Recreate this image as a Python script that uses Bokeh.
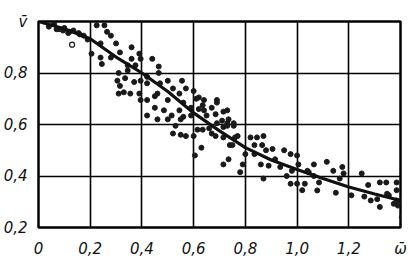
from bokeh.plotting import figure
from bokeh.models import FixedTicker
from bokeh.embed import file_html
from bokeh.resources import INLINE

# Smoothed curve
curve_x = [0.0, 0.1, 0.2, 0.3, 0.4, 0.5, 0.6, 0.7, 0.8, 0.9, 1.0, 1.1, 1.2, 1.3, 1.4]
curve_y = [1.0, 0.972, 0.933, 0.862, 0.80, 0.728, 0.645, 0.575, 0.51, 0.462, 0.425, 0.39, 0.357, 0.33, 0.305]

# Measured points (filled dots)
pts_x = [
    0.04, 0.06, 0.08, 0.10, 0.115, 0.135, 0.155, 0.175, 0.19, 0.07, 0.095, 0.12, 0.16,
    0.225, 0.255, 0.265, 0.24, 0.28, 0.205, 0.24, 0.28, 0.245, 0.30, 0.315, 0.345, 0.36,
    0.39, 0.375, 0.395, 0.44, 0.465, 0.31, 0.345, 0.305, 0.335, 0.37, 0.395, 0.42, 0.315,
    0.31, 0.33, 0.355, 0.39, 0.395, 0.42, 0.45, 0.47, 0.50, 0.52, 0.50, 0.42, 0.45, 0.485,
    0.515, 0.545, 0.555, 0.57, 0.60, 0.62, 0.64, 0.56, 0.59, 0.465, 0.42, 0.545, 0.46,
    0.46, 0.50, 0.55, 0.56, 0.59, 0.62, 0.65, 0.69, 0.61, 0.36,
    0.53, 0.52, 0.55, 0.57, 0.60, 0.615, 0.635, 0.66, 0.63, 0.605, 0.635, 0.64, 0.67,
    0.69, 0.685, 0.715, 0.73, 0.735, 0.71, 0.69, 0.67, 0.715, 0.73, 0.755, 0.76, 0.74,
    0.685, 0.715, 0.73, 0.755, 0.75, 0.77, 0.715, 0.735, 0.78, 0.79, 0.80, 0.82, 0.845,
    0.87, 0.835, 0.835, 0.865, 0.88, 0.86, 0.89, 0.905, 0.915, 0.95, 0.975, 1.0, 0.96,
    0.975, 0.87, 0.935, 0.98, 1.0, 1.005, 1.02, 1.03, 1.04, 1.065, 1.065, 1.085, 1.115,
    1.14, 1.15, 1.175, 1.18, 1.165, 1.21, 1.25, 1.275, 1.26, 1.285, 1.32, 1.345, 1.385,
    1.32, 1.31, 1.355, 1.385, 1.385, 1.40, 1.39, 1.405, 1.045, 1.078, 1.348, 1.374,
]
pts_y = [
    0.98, 0.99, 0.97, 0.975, 0.955, 0.965, 0.955, 0.945, 0.93, 0.97, 0.965, 0.96, 0.95,
    0.985, 0.985, 0.96, 0.915, 0.945, 0.875, 0.86, 0.86, 0.835, 0.915, 0.88, 0.83, 0.855,
    0.875, 0.83, 0.855, 0.855, 0.825, 0.80, 0.81, 0.77, 0.78, 0.765, 0.77, 0.785, 0.75,
    0.72, 0.725, 0.72, 0.72, 0.695, 0.695, 0.71, 0.76, 0.77, 0.74, 0.695, 0.635, 0.665, 0.655,
    0.635, 0.655, 0.77, 0.74, 0.73, 0.705, 0.695, 0.63, 0.635, 0.80, 0.76, 0.72, 0.72,
    0.62, 0.62, 0.62, 0.685, 0.665, 0.66, 0.635, 0.685, 0.70, 0.90,
    0.595, 0.565, 0.56, 0.555, 0.555, 0.58, 0.58, 0.585, 0.51, 0.48, 0.675, 0.655, 0.665,
    0.695, 0.64, 0.65, 0.655, 0.62, 0.615, 0.605, 0.565, 0.55, 0.605, 0.605, 0.55, 0.52,
    0.555, 0.59, 0.595, 0.595, 0.52, 0.555, 0.445, 0.465, 0.415, 0.445, 0.485, 0.55, 0.55,
    0.555, 0.52, 0.485, 0.52, 0.50, 0.445, 0.44, 0.505, 0.465, 0.50, 0.485, 0.48, 0.40,
    0.37, 0.39, 0.435, 0.42, 0.37, 0.445, 0.345, 0.37, 0.42, 0.445, 0.40, 0.375, 0.455,
    0.42, 0.335, 0.435, 0.41, 0.39, 0.325, 0.41, 0.365, 0.32, 0.305, 0.375, 0.375, 0.375,
    0.28, 0.31, 0.325, 0.345, 0.305, 0.30, 0.285, 0.24, 0.415, 0.344, 0.331, 0.292,
]

# Single hollow point
open_x = [0.13]
open_y = [0.91]

x_ticks = [0.0, 0.2, 0.4, 0.6, 0.8, 1.0, 1.2, 1.4]
x_labels = ["0", "0,2", "0,4", "0,6", "0,8", "1,0", "1,2", "\u03c9\u0304"]
y_ticks = [0.2, 0.4, 0.6, 0.8, 1.0]
y_labels = ["0,2", "0,4", "0,6", "0,8", "v\u0304"]

p = figure(width=419, height=262, x_range=(0, 1.4), y_range=(0.2, 1.0),
           output_backend="svg", toolbar_location=None,
           min_border_left=38, min_border_right=19, min_border_top=21, min_border_bottom=35)
p.background_fill_color = "white"
p.border_fill_color = "white"
p.outline_line_color = "black"
p.outline_line_width = 2.5

for ax, ticks, labels in ((p.xaxis[0], x_ticks, x_labels), (p.yaxis[0], y_ticks, y_labels)):
    ax.ticker = FixedTicker(ticks=ticks)
    ax.major_label_overrides = {t: l for t, l in zip(ticks, labels)}
    ax.axis_line_color = None
    ax.major_tick_line_color = None
    ax.minor_tick_line_color = None
    ax.major_label_text_font = "DejaVu Sans"
    ax.major_label_text_font_style = "italic"
    ax.major_label_text_font_size = "15px"
    ax.major_label_text_color = "#111111"
p.xaxis.major_label_standoff = 6
p.yaxis.major_label_standoff = 5

p.xgrid.ticker = FixedTicker(ticks=x_ticks)
p.ygrid.ticker = FixedTicker(ticks=y_ticks)
for g in (p.xgrid[0], p.ygrid[0]):
    g.grid_line_color = "black"
    g.grid_line_width = 1.6
    g.grid_line_alpha = 1.0

p.scatter(pts_x, pts_y, size=5, color="#1a1a1a", line_color="#1a1a1a")
p.scatter(open_x, open_y, size=5, fill_color="white", line_color="#1a1a1a", line_width=1.2)
p.line(curve_x, curve_y, line_width=3.2, color="#111111")

open("out.html", "w").write(file_html(p, INLINE))
